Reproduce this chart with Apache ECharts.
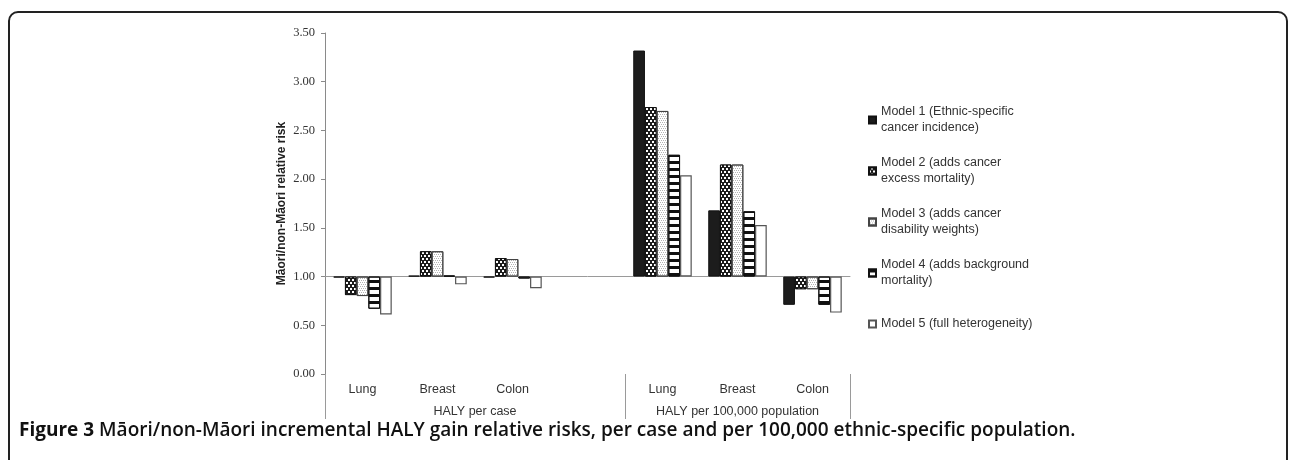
<!DOCTYPE html>
<html>
<head>
<meta charset="utf-8">
<script src="https://cdn.jsdelivr.net/npm/echarts@6/dist/echarts.min.js"></script>
<style>
html,body{margin:0;padding:0;background:#fff;}
#chart{width:1290px;height:460px;}
</style>
</head>
<body>
<div id="chart"></div>
<script>
// ---- data ----
const categories = ['Lung', 'Breast', 'Colon', '', 'Lung', 'Breast', 'Colon'];
const groupNames = ['HALY per case', 'HALY per 100,000 population'];
const groupSizes = [4, 3];
const seriesNames = [
  'Model 1 (Ethnic-specific\ncancer incidence)',
  'Model 2 (adds cancer\nexcess mortality)',
  'Model 3 (adds cancer\ndisability weights)',
  'Model 4 (adds background\nmortality)',
  'Model 5 (full heterogeneity)'
];
const model1 = [0.99, 1.01, 0.99, null, 3.32, 1.68, 0.71];
const model2 = [0.81, 1.26, 1.19, null, 2.74, 2.15, 0.87];
const model3 = [0.80, 1.26, 1.18, null, 2.70, 2.15, 0.87];
const model4 = [0.67, 1.01, 0.98, null, 2.25, 1.67, 0.71];
const model5 = [0.61, 0.92, 0.88, null, 2.04, 1.53, 0.63];
const baseline = 1.0;       // category axis crosses the value axis here
const yMin = 0, yMax = 3.5, yStep = 0.5;
const yTitle = 'Māori/non-Māori relative risk';
const captionBold = 'Figure 3';
const captionText = 'Māori/non-Māori incremental HALY gain relative risks, per case and per 100,000 ethnic-specific population.';

// ---- chart ----
const chart = echarts.init(document.getElementById('chart'), null, {renderer: 'canvas'});
const allModels = [model1, model2, model3, model4, model5];

const styles = [
  {color: '#1c1c1c', borderColor: '#111', borderWidth: 1},
  {color: '#1c1c1c', borderColor: '#111', borderWidth: 1,
    decal: {color: '#ffffff', symbol: 'rect', symbolSize: 1, dashArrayX: [[2, 2], [0, 2, 2, 0]], dashArrayY: [2, 1], rotation: 0}},
  {color: '#ffffff', borderColor: '#444', borderWidth: 1,
    decal: {color: '#555555', symbol: 'circle', symbolSize: 0.8, dashArrayX: [[1, 1], [0, 1, 1, 0]], dashArrayY: [1, 1], rotation: 0}},
  {color: '#ffffff', borderColor: '#111', borderWidth: 1,
    decal: {color: '#111111', symbol: 'rect', symbolSize: 1, dashArrayX: [[1, 0]], dashArrayY: [2.5, 4], rotation: 0}},
  {color: '#ffffff', borderColor: '#555', borderWidth: 1.2}
];

const gridLeft = 325, gridTop = 33, gridWidth = 525, gridHeight = 341;
const legendLine = 16;

const series = allModels.map((arr, i) => ({
  name: seriesNames[i],
  type: 'bar',
  xAxisIndex: 0,
  yAxisIndex: 0,
  barGap: '0%',
  barCategoryGap: '22%',
  itemStyle: styles[i],
  emphasis: {disabled: true},
  data: arr.map(v => v == null ? null : +(v - baseline).toFixed(4))
}));

const option = {
  backgroundColor: '#ffffff',
  animation: false,
  textStyle: {fontFamily: 'Liberation Sans, Arial, sans-serif'},
  title: {
    left: 19, top: 421, padding: 0,
    text: '{a|' + captionBold + '} {b|' + captionText + '}',
    textStyle: {
      rich: {
        a: {fontFamily: 'Open Sans, Liberation Sans', fontWeight: 'bold', fontSize: 19, color: '#111'},
        b: {fontFamily: 'Open Sans, Liberation Sans', fontWeight: 600, fontSize: 19, color: '#111'}
      }
    }
  },
  graphic: [{
    type: 'rect',
    shape: {x: 9, y: 12, width: 1278, height: 470, r: [9, 9, 0, 0]},
    style: {fill: 'none', stroke: '#222', lineWidth: 2},
    silent: true, z: -1
  }],
  legend: {
    orient: 'vertical',
    left: 863, top: 91,
    itemWidth: 7, itemHeight: 7, itemGap: 3,
    icon: 'rect',
    textStyle: {fontSize: 12.5, color: '#333', lineHeight: legendLine, fontFamily: 'Liberation Sans, Arial'},
    data: seriesNames.map((n, i) => ({
      name: n,
      textStyle: {padding: i < 4 ? [legendLine, 0, 0, 0] : [legendLine, 0, legendLine, 0]}
    })),
    selectedMode: false
  },
  grid: {left: gridLeft, top: gridTop, width: gridWidth, height: gridHeight, containLabel: false},
  xAxis: [
    {
      type: 'category', data: categories, position: 'bottom',
      axisLine: {onZero: true, lineStyle: {color: '#9a9a9a', width: 1}},
      axisTick: {show: false}, axisLabel: {show: false}, splitLine: {show: false}
    },
    {
      type: 'category', data: categories, position: 'bottom',
      axisLine: {show: false, onZero: false},
      axisTick: {show: false},
      axisLabel: {show: true, interval: 0, margin: 9, fontSize: 12.5, color: '#333', fontFamily: 'Liberation Sans, Arial'},
      splitLine: {show: false}
    },
    {
      type: 'value', min: 0, max: categories.length, position: 'bottom',
      axisLine: {show: false, onZero: false},
      axisTick: {show: true, inside: false, length: 45, lineStyle: {color: '#9a9a9a'},
        customValues: [0, groupSizes[0], groupSizes[0] + groupSizes[1]]},
      axisLabel: {show: true, margin: 31, fontSize: 12.5, color: '#333', fontFamily: 'Liberation Sans, Arial',
        customValues: [groupSizes[0] / 2, groupSizes[0] + groupSizes[1] / 2],
        formatter: v => (v < groupSizes[0] ? groupNames[0] : groupNames[1])},
      splitLine: {show: false}
    }
  ],
  yAxis: [{
    type: 'value',
    min: yMin - baseline, max: yMax - baseline, interval: yStep,
    name: yTitle, nameLocation: 'middle', nameGap: 37,
    nameTextStyle: {fontSize: 12, fontWeight: 'bold', color: '#222', fontFamily: 'Liberation Sans, Arial'},
    axisLine: {show: true, lineStyle: {color: '#8a8a8a'}},
    axisTick: {show: true, length: 4, lineStyle: {color: '#8a8a8a'}},
    axisLabel: {margin: 10, fontSize: 12.5, color: '#333', fontFamily: 'Liberation Serif, DejaVu Serif, serif',
      formatter: v => (v + baseline).toFixed(2)},
    splitLine: {show: false}
  }],
  series: series
};
chart.setOption(option);
</script>
</body>
</html>
